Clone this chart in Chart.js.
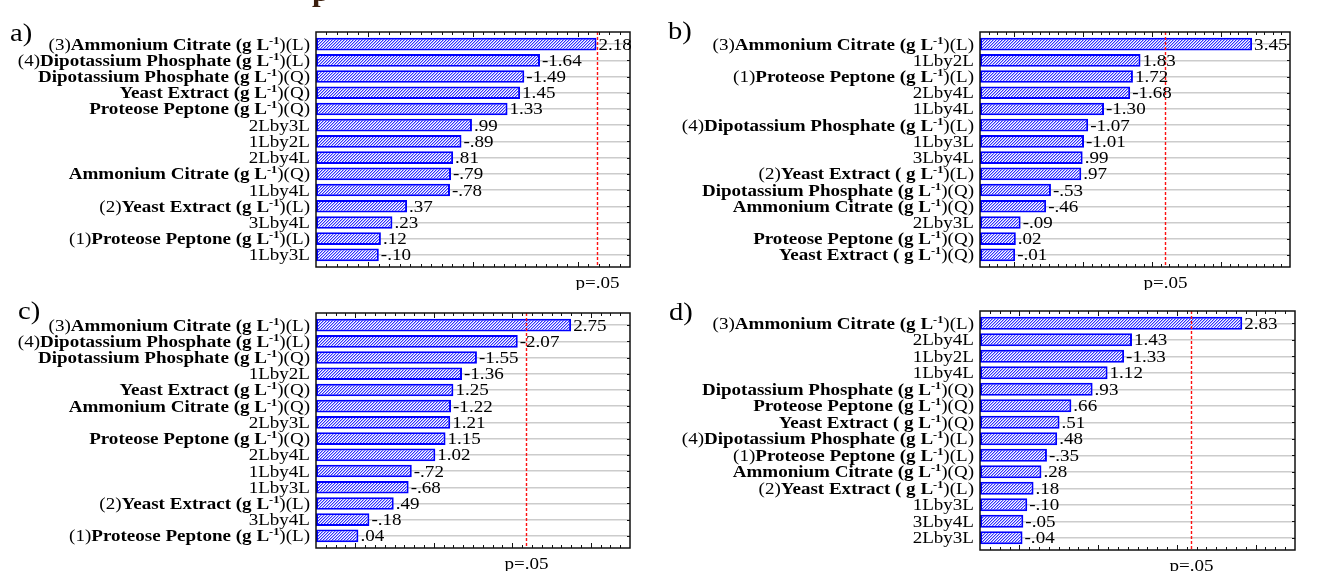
<!DOCTYPE html>
<html>
<head>
<meta charset="utf-8">
<title>Pareto charts of standardized effects</title>
<script src="https://cdn.jsdelivr.net/npm/chart.js@4.4.1/dist/chart.umd.min.js"></script>
<style>
  html, body { margin: 0; padding: 0; background: #fff; }
  #page { position: relative; width: 1317px; height: 571px; overflow: hidden; background: #fff; }
  #page canvas { position: absolute; }
</style>
</head>
<body>
<div id="page">
  <canvas id="chartA" width="658" height="290" style="left:0;top:0"></canvas>
  <canvas id="chartB" width="659" height="290" style="left:658px;top:0"></canvas>
  <canvas id="chartC" width="658" height="281" style="left:0;top:290px"></canvas>
  <canvas id="chartD" width="659" height="281" style="left:658px;top:290px"></canvas>
</div>
<script>
// Standardized effects (Pareto charts)
const termsA = ['(3)Ammonium Citrate (g L-1)(L)', '(4)Dipotassium Phosphate (g L-1)(L)', 'Dipotassium Phosphate (g L-1)(Q)',
  'Yeast Extract (g L-1)(Q)', 'Proteose Peptone (g L-1)(Q)', '2Lby3L', '1Lby2L', '2Lby4L', 'Ammonium Citrate (g L-1)(Q)',
  '1Lby4L', '(2)Yeast Extract (g L-1)(L)', '3Lby4L', '(1)Proteose Peptone (g L-1)(L)', '1Lby3L'];
const effectsA = [2.18, -1.64, -1.49, 1.45, 1.33, 0.99, -0.89, 0.81, -0.79, -0.78, 0.37, 0.23, 0.12, -0.10];

const termsB = ['(3)Ammonium Citrate (g L-1)(L)', '1Lby2L', '(1)Proteose Peptone (g L-1)(L)', '2Lby4L', '1Lby4L',
  '(4)Dipotassium Phosphate (g L-1)(L)', '1Lby3L', '3Lby4L', '(2)Yeast Extract ( g L-1)(L)', 'Dipotassium Phosphate (g L-1)(Q)',
  'Ammonium Citrate (g L-1)(Q)', '2Lby3L', 'Proteose Peptone (g L-1)(Q)', 'Yeast Extract ( g L-1)(Q)'];
const effectsB = [3.45, 1.83, 1.72, -1.68, -1.30, -1.07, -1.01, 0.99, 0.97, -0.53, -0.46, -0.09, 0.02, -0.01];

const termsC = ['(3)Ammonium Citrate (g L-1)(L)', '(4)Dipotassium Phosphate (g L-1)(L)', 'Dipotassium Phosphate (g L-1)(Q)',
  '1Lby2L', 'Yeast Extract (g L-1)(Q)', 'Ammonium Citrate (g L-1)(Q)', '2Lby3L', 'Proteose Peptone (g L-1)(Q)', '2Lby4L',
  '1Lby4L', '1Lby3L', '(2)Yeast Extract (g L-1)(L)', '3Lby4L', '(1)Proteose Peptone (g L-1)(L)'];
const effectsC = [2.75, -2.07, -1.55, -1.36, 1.25, -1.22, 1.21, 1.15, 1.02, -0.72, -0.68, 0.49, -0.18, 0.04];

const termsD = ['(3)Ammonium Citrate (g L-1)(L)', '2Lby4L', '1Lby2L', '1Lby4L', 'Dipotassium Phosphate (g L-1)(Q)',
  'Proteose Peptone (g L-1)(Q)', 'Yeast Extract ( g L-1)(Q)', '(4)Dipotassium Phosphate (g L-1)(L)',
  '(1)Proteose Peptone (g L-1)(L)', 'Ammonium Citrate (g L-1)(Q)', '(2)Yeast Extract ( g L-1)(L)', '1Lby3L', '3Lby4L', '2Lby3L'];
const effectsD = [2.83, 1.43, -1.33, 1.12, 0.93, 0.66, 0.51, 0.48, -0.35, 0.28, 0.18, -0.10, -0.05, -0.04];

const panelLetters = ['a)', 'b)', 'c)', 'd)'];
const axisMin = -0.5;
const axisMax = [2.5, 4.0, 3.5, 3.5];
const tCritical = 2.18;
const pLabel = 'p=.05';

// layout of each panel: padding gives the bar area, the box is drawn 4px outside it
const BOX_INSET = 4;
const layouts = [
  { id: 'chartA', pad: { left: 316, top: 36, right: 28, bottom: 27 }, letter: { x: 10, y: 41 }, step: 0.1 },
  { id: 'chartB', pad: { left: 322, top: 36, right: 27, bottom: 27 }, letter: { x: 10, y: 39 }, step: 0.125 },
  { id: 'chartC', pad: { left: 316, top: 27, right: 28, bottom: 27 }, letter: { x: 18, y: 29 }, step: 0.125 },
  { id: 'chartD', pad: { left: 322, top: 25, right: 22, bottom: 25 }, letter: { x: 11, y: 30 }, step: 0.125 }
];

const SERIF = '"Liberation Serif", "Times New Roman", serif';
const FS = 17;          // text size
const STRETCH = 1.12;   // the original figure is stretched horizontally

// diagonal "////" hatch used as bar fill
function makeHatch() {
  const s = 3;
  const c = document.createElement('canvas');
  c.width = s; c.height = s;
  const g = c.getContext('2d');
  g.fillStyle = '#ffffff';
  g.fillRect(0, 0, s, s);
  for (let i = 0; i < s; i++) {
    g.fillStyle = '#3030ff';
    g.fillRect(i, s - 1 - i, 1, 1);
    g.fillStyle = '#a9a9ff';
    g.fillRect(i, (s - i) % s, 1, 1);
  }
  return g.createPattern(c, 'repeat');
}

function fmtEffect(v) {
  const s = Math.abs(v).toFixed(2).replace(/^0/, '');
  return (v < 0 ? '-' : '') + s;
}

// split a term into runs: "(n)" normal, name bold, "-1" superscript, ")(L)" normal
function termRuns(term) {
  const m = term.match(/^(\(\d\))?(.* L)-1(\)\([LQ]\))$/);
  if (!m) return [{ text: term, font: FS + 'px ' + SERIF }];
  const runs = [];
  if (m[1]) runs.push({ text: m[1], font: FS + 'px ' + SERIF });
  runs.push({ text: m[2], font: 'bold ' + FS + 'px ' + SERIF });
  runs.push({ text: '-1', font: 'bold 11px ' + SERIF, dy: -6 });
  runs.push({ text: m[3], font: FS + 'px ' + SERIF });
  return runs;
}

function drawRuns(ctx, runs, x, baseY, align, sx) {
  let w = 0;
  runs.forEach(r => { ctx.font = r.font; r.w = ctx.measureText(r.text).width; w += r.w; });
  let start = x;
  if (align === 'right') start = x - w * sx;
  if (align === 'center') start = x - w * sx / 2;
  ctx.save();
  ctx.translate(start, baseY);
  ctx.scale(sx, 1);
  ctx.textAlign = 'left';
  ctx.textBaseline = 'alphabetic';
  let cx = 0;
  runs.forEach(r => {
    ctx.font = r.font;
    ctx.fillText(r.text, cx, r.dy || 0);
    cx += r.w;
  });
  ctx.restore();
}

const paretoDecor = {
  id: 'pareto',
  afterDatasetsDraw(chart, args, opts) {
    const { ctx, chartArea: area, scales: { x } } = chart;
    const meta = chart.getDatasetMeta(0);
    const top = area.top - BOX_INSET;
    const bottom = area.bottom + BOX_INSET;
    ctx.save();

    // critical t value line
    const px = Math.round(x.getPixelForValue(tCritical)) + 0.5;
    ctx.strokeStyle = '#ff1010';
    ctx.lineWidth = 1.4;
    ctx.setLineDash([3, 2]);
    ctx.beginPath();
    ctx.moveTo(px, top);
    ctx.lineTo(px, bottom);
    ctx.stroke();
    ctx.setLineDash([]);

    // plot box
    ctx.strokeStyle = '#111111';
    ctx.lineWidth = 1.5;
    ctx.strokeRect(area.left, top, area.right - area.left, bottom - top);

    // inner tick marks on top and bottom edges
    ctx.lineWidth = 1;
    ctx.beginPath();
    const n = Math.round((x.max - x.min) / opts.step);
    for (let k = 1; k < n; k++) {
      const v = x.min + k * opts.step;
      const tx = Math.round(x.getPixelForValue(v)) + 0.5;
      const major = Math.abs(v - Math.round(v)) < 1e-6;
      const len = major ? 5 : 3;
      ctx.moveTo(tx, top);
      ctx.lineTo(tx, top + len);
      ctx.moveTo(tx, bottom);
      ctx.lineTo(tx, bottom - len);
    }
    // row ticks on the right edge
    meta.data.forEach(bar => {
      const ty = Math.round(bar.y) + 0.5;
      ctx.moveTo(area.right, ty);
      ctx.lineTo(area.right - 3, ty);
    });
    ctx.stroke();

    ctx.fillStyle = '#000000';
    // value labels and term labels
    meta.data.forEach((bar, i) => {
      const eff = opts.effects[i];
      drawRuns(ctx, [{ text: fmtEffect(eff), font: FS + 'px ' + SERIF }], bar.x + 2, bar.y + 5.5, 'left', STRETCH);
      drawRuns(ctx, termRuns(chart.data.labels[i]), area.left - 6, bar.y + 5.5, 'right', STRETCH);
    });

    // p=.05 label under the line
    drawRuns(ctx, [{ text: pLabel, font: FS + 'px ' + SERIF }], px, bottom + 21, 'center', STRETCH);

    // panel letter
    drawRuns(ctx, [{ text: opts.letter, font: '26px ' + SERIF }], opts.letterPos.x, opts.letterPos.y, 'left', 1.1);

    // remnant of the figure title cut at the top edge
    if (opts.titleRemnant) {
      ctx.fillStyle = '#3b1f0e';
      drawRuns(ctx, [{ text: opts.titleRemnant, font: 'bold 28px ' + SERIF }], area.left - 4, 1, 'left', 1.1);
    }
    ctx.restore();
  }
};

const hatch = makeHatch();
const allTerms = [termsA, termsB, termsC, termsD];
const allEffects = [effectsA, effectsB, effectsC, effectsD];

layouts.forEach((lay, p) => {
  new Chart(document.getElementById(lay.id), {
    type: 'bar',
    data: {
      labels: allTerms[p],
      datasets: [{
        data: allEffects[p].map(v => Math.abs(v)),
        base: axisMin,
        backgroundColor: hatch,
        borderColor: '#0000ff',
        borderWidth: 2,
        borderSkipped: false,
        barPercentage: 0.78,
        categoryPercentage: 1
      }]
    },
    options: {
      indexAxis: 'y',
      responsive: false,
      animation: false,
      devicePixelRatio: 1,
      events: [],
      layout: { padding: lay.pad },
      scales: {
        x: { type: 'linear', display: false, min: axisMin, max: axisMax[p] },
        y: {
          display: true,
          ticks: { display: false },
          grid: { offset: false, color: '#cccccc', lineWidth: 1.5, drawTicks: false },
          border: { display: false }
        }
      },
      plugins: {
        legend: { display: false },
        tooltip: { enabled: false },
        pareto: {
          effects: allEffects[p],
          step: lay.step,
          letter: panelLetters[p],
          letterPos: lay.letter,
          titleRemnant: p === 0 ? 'p' : null
        }
      }
    },
    plugins: [paretoDecor]
  });
});
</script>
</body>
</html>
